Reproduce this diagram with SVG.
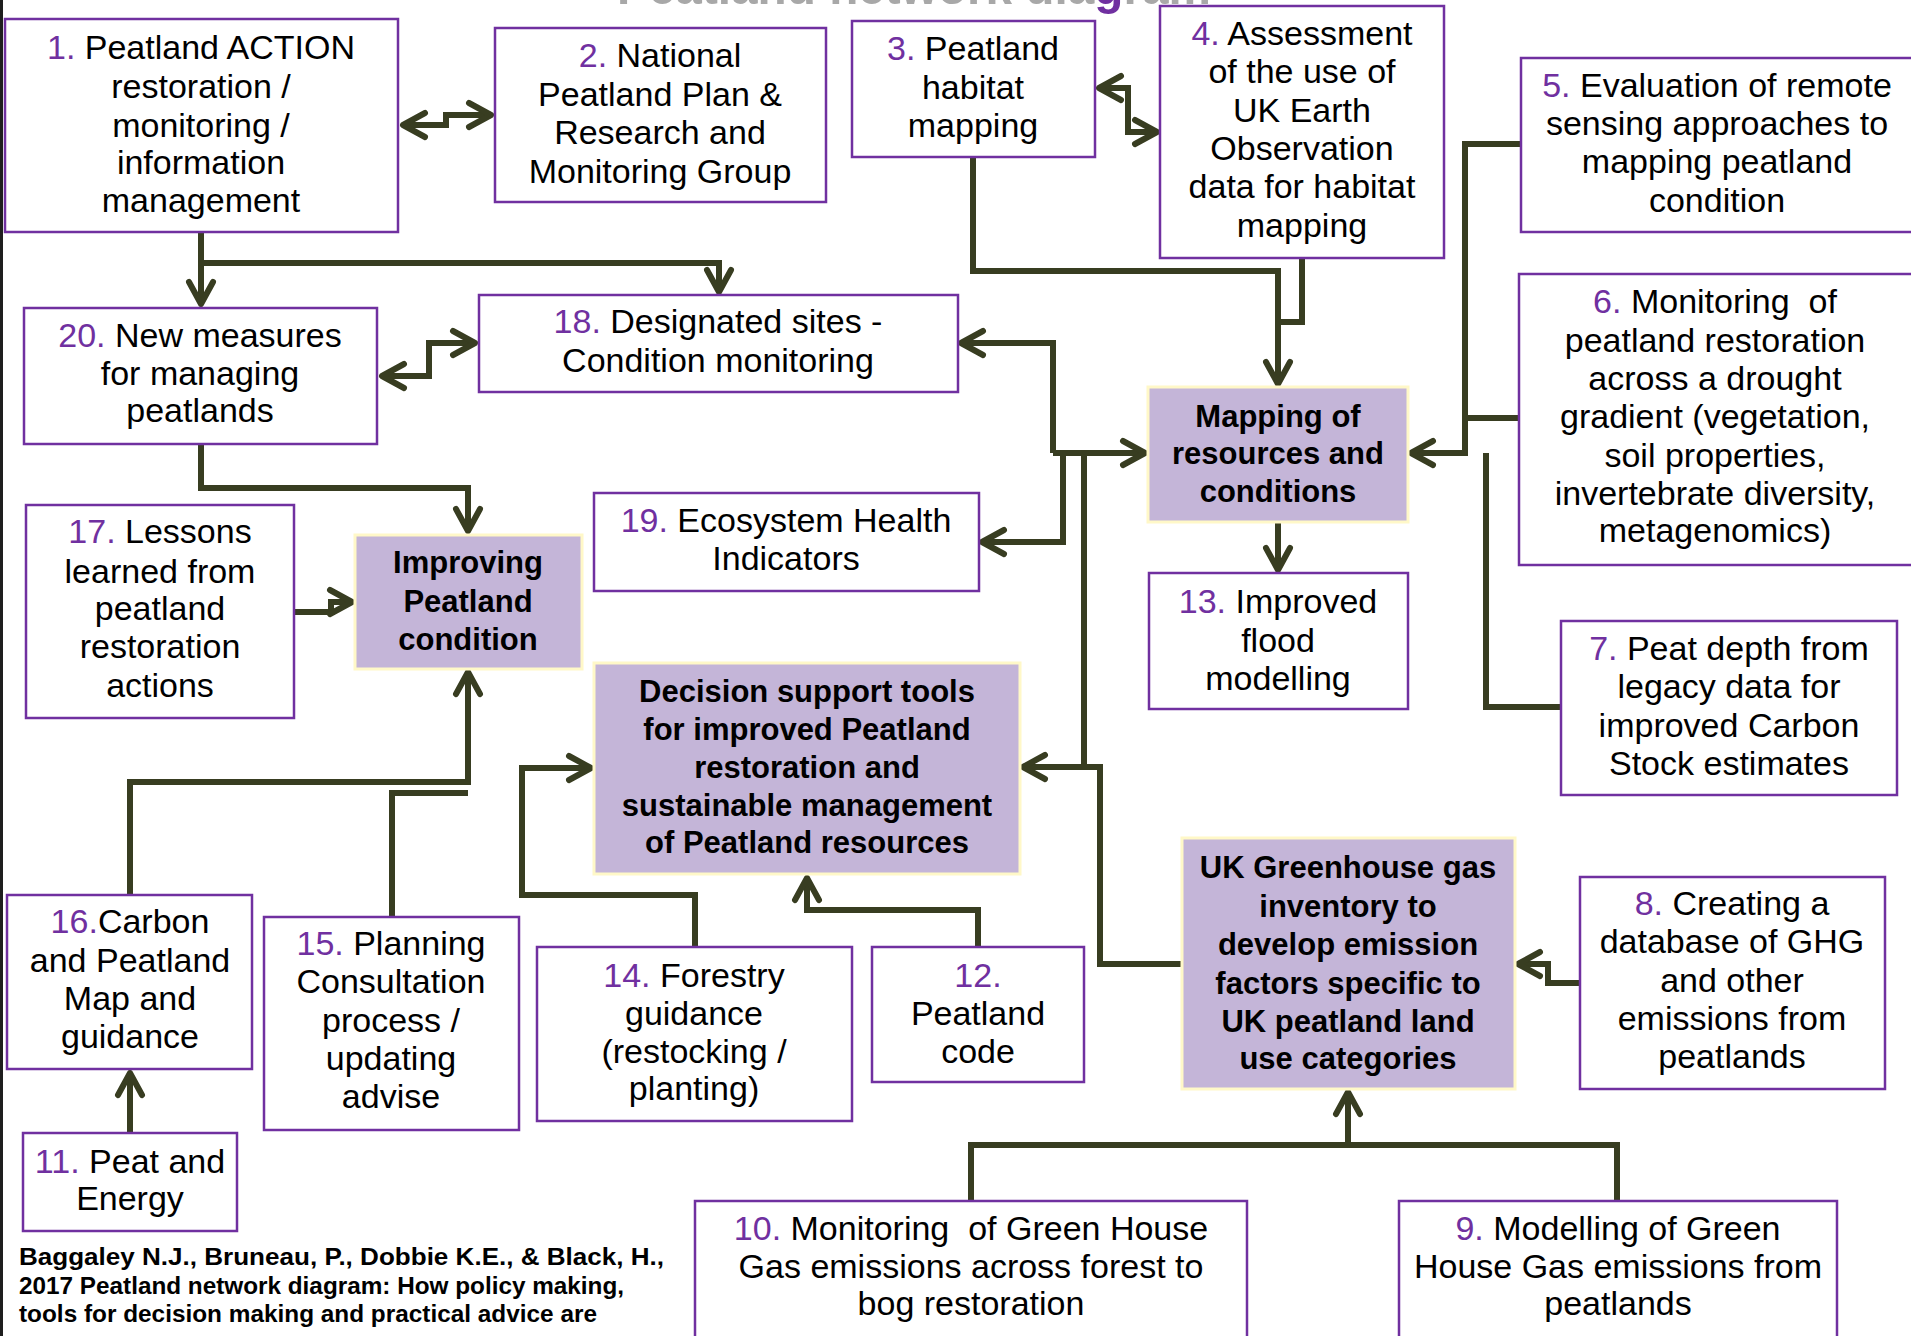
<svg xmlns="http://www.w3.org/2000/svg" width="1911" height="1336" viewBox="0 0 1911 1336">
<style>
.box{fill:#fff;stroke:#7030a0;stroke-width:2.5}
.hub{fill:#c4b5d8;stroke:#fff8c8;stroke-width:3}
.t{font-family:"Liberation Sans",Arial,sans-serif;font-size:34px;fill:#000;text-anchor:middle}
.b{font-family:"Liberation Sans",Arial,sans-serif;font-size:31px;font-weight:bold;fill:#000;text-anchor:middle}
.n{fill:#7030a0}
.c{fill:none;stroke:#383d21;stroke-width:6;stroke-linejoin:miter}
.a{marker-end:url(#ah)}
.d{marker-start:url(#ah);marker-end:url(#ah)}
.cite{font-family:"Liberation Sans",Arial,sans-serif;font-size:24px;font-weight:bold;fill:#000}
</style>
<defs>
<marker id="ah" viewBox="-28 -16 32 32" refX="0" refY="0" markerWidth="32" markerHeight="32" markerUnits="userSpaceOnUse" orient="auto-start-reverse">
<path d="M-22,-12 L0,0 L-22,12" fill="none" stroke="#383d21" stroke-width="6" stroke-linecap="round" stroke-linejoin="round"/>
</marker>
</defs>
<rect x="0" y="0" width="1911" height="1336" fill="#fff"/>
<rect x="0" y="0" width="3" height="1336" fill="#1e1e1e"/>
<text x="914" y="4" text-anchor="middle" font-family="Liberation Sans, Arial, sans-serif" font-size="50" font-weight="bold" fill="#a8a8a8" textLength="594" lengthAdjust="spacingAndGlyphs">Peatland network dia<tspan fill="#7030a0">g</tspan>ram</text>

<g id="connectors">
<path class="c a" d="M201,232 V304"/>
<path class="c a" d="M201,263 H719 V292"/>
<path class="c d" d="M403,125 H446 V115 H491"/>
<path class="c d" d="M382,376 H429 V343 H475"/>
<path class="c a" d="M201,444 V488 H468 V531"/>
<path class="c a" d="M294,612 H331 V602 H352"/>
<path class="c a" d="M130,895 V782 H468 V672"/>
<path class="c" d="M392,917 V793 H468"/>
<path class="c a" d="M695,947 V895 H522 V768 H591"/>
<path class="c a" d="M978,947 V910 H807 V878"/>
<path class="c a" d="M130,1133 V1073"/>
<path class="c d" d="M1099,88 H1128 V132 H1157"/>
<path class="c a" d="M973,157 V271 H1278 V384"/>
<path class="c" d="M1302,258 V322 H1278"/>
<path class="c a" d="M1053,453 H1145"/>
<path class="c a" d="M1053,453 V343 H961"/>
<path class="c a" d="M1063,453 V542 H982"/>
<path class="c a" d="M1084,453 V767 H1023"/>
<path class="c" d="M1182,964 H1100 V767 H1084"/>
<path class="c a" d="M1521,144 H1465 V453 H1411"/>
<path class="c" d="M1519,418 H1465"/>
<path class="c" d="M1561,707 H1486 V453"/>
<path class="c a" d="M1278,522 V570"/>
<path class="c a" d="M1580,983 H1548 V964 H1518"/>
<path class="c" d="M971,1201 V1145 H1617 V1201"/>
<path class="c a" d="M1348,1145 V1092"/>
</g>

<g id="n1"><rect class="box" x="5" y="19" width="393" height="213"/>
<text class="t" x="201" y="59"><tspan class="n">1.</tspan> Peatland ACTION</text>
<text class="t" x="201" y="98">restoration /</text>
<text class="t" x="201" y="137">monitoring /</text>
<text class="t" x="201" y="174">information</text>
<text class="t" x="201" y="212">management</text></g>

<g id="n2"><rect class="box" x="495" y="28" width="331" height="174"/>
<text class="t" x="660" y="67"><tspan class="n">2.</tspan> National</text>
<text class="t" x="660" y="106">Peatland Plan &amp;</text>
<text class="t" x="660" y="144">Research and</text>
<text class="t" x="660" y="183">Monitoring Group</text></g>

<g id="n3"><rect class="box" x="852" y="21" width="243" height="136"/>
<text class="t" x="973" y="60"><tspan class="n">3.</tspan> Peatland</text>
<text class="t" x="973" y="99">habitat</text>
<text class="t" x="973" y="137">mapping</text></g>

<g id="n4"><rect class="box" x="1160" y="6" width="284" height="252"/>
<text class="t" x="1302" y="45"><tspan class="n">4.</tspan> Assessment</text>
<text class="t" x="1302" y="83">of the use of</text>
<text class="t" x="1302" y="122">UK Earth</text>
<text class="t" x="1302" y="160">Observation</text>
<text class="t" x="1302" y="198">data for habitat</text>
<text class="t" x="1302" y="237">mapping</text></g>

<g id="n5"><rect class="box" x="1521" y="58" width="400" height="174"/>
<text class="t" x="1717" y="97"><tspan class="n">5.</tspan> Evaluation of remote</text>
<text class="t" x="1717" y="135">sensing approaches to</text>
<text class="t" x="1717" y="173">mapping peatland</text>
<text class="t" x="1717" y="212">condition</text></g>

<g id="n6"><rect class="box" x="1519" y="274" width="400" height="291"/>
<text class="t" x="1715" y="313"><tspan class="n">6.</tspan> Monitoring&#160; of</text>
<text class="t" x="1715" y="352">peatland restoration</text>
<text class="t" x="1715" y="390">across a drought</text>
<text class="t" x="1715" y="428">gradient (vegetation,</text>
<text class="t" x="1715" y="467">soil properties,</text>
<text class="t" x="1715" y="505">invertebrate diversity,</text>
<text class="t" x="1715" y="542">metagenomics)</text></g>

<g id="n7"><rect class="box" x="1561" y="621" width="336" height="174"/>
<text class="t" x="1729" y="660"><tspan class="n">7.</tspan> Peat depth from</text>
<text class="t" x="1729" y="698">legacy data for</text>
<text class="t" x="1729" y="737">improved Carbon</text>
<text class="t" x="1729" y="775">Stock estimates</text></g>

<g id="n8"><rect class="box" x="1580" y="877" width="305" height="212"/>
<text class="t" x="1732" y="915"><tspan class="n">8.</tspan> Creating a</text>
<text class="t" x="1732" y="953">database of GHG</text>
<text class="t" x="1732" y="992">and other</text>
<text class="t" x="1732" y="1030">emissions from</text>
<text class="t" x="1732" y="1068">peatlands</text></g>

<g id="n9"><rect class="box" x="1399" y="1201" width="438" height="140"/>
<text class="t" x="1618" y="1240"><tspan class="n">9.</tspan> Modelling of Green</text>
<text class="t" x="1618" y="1278">House Gas emissions from</text>
<text class="t" x="1618" y="1315">peatlands</text></g>

<g id="n10"><rect class="box" x="695" y="1201" width="552" height="140"/>
<text class="t" x="971" y="1240"><tspan class="n">10.</tspan> Monitoring&#160; of Green House</text>
<text class="t" x="971" y="1278">Gas emissions across forest to</text>
<text class="t" x="971" y="1315">bog restoration</text></g>

<g id="n11"><rect class="box" x="23" y="1133" width="214" height="98"/>
<text class="t" x="130" y="1173"><tspan class="n">11.</tspan> Peat and</text>
<text class="t" x="130" y="1210">Energy</text></g>

<g id="n12"><rect class="box" x="872" y="947" width="212" height="135"/>
<text class="t" x="978" y="987"><tspan class="n">12.</tspan></text>
<text class="t" x="978" y="1025">Peatland</text>
<text class="t" x="978" y="1063">code</text></g>

<g id="n13"><rect class="box" x="1149" y="573" width="259" height="136"/>
<text class="t" x="1278" y="613"><tspan class="n">13.</tspan> Improved</text>
<text class="t" x="1278" y="652">flood</text>
<text class="t" x="1278" y="690">modelling</text></g>

<g id="n14"><rect class="box" x="537" y="947" width="315" height="174"/>
<text class="t" x="694" y="987"><tspan class="n">14.</tspan> Forestry</text>
<text class="t" x="694" y="1025">guidance</text>
<text class="t" x="694" y="1063">(restocking /</text>
<text class="t" x="694" y="1100">planting)</text></g>

<g id="n15"><rect class="box" x="264" y="917" width="255" height="213"/>
<text class="t" x="391" y="955"><tspan class="n">15.</tspan> Planning</text>
<text class="t" x="391" y="993">Consultation</text>
<text class="t" x="391" y="1032">process /</text>
<text class="t" x="391" y="1070">updating</text>
<text class="t" x="391" y="1108">advise</text></g>

<g id="n16"><rect class="box" x="7" y="895" width="245" height="174"/>
<text class="t" x="130" y="933"><tspan class="n">16.</tspan>Carbon</text>
<text class="t" x="130" y="972">and Peatland</text>
<text class="t" x="130" y="1010">Map and</text>
<text class="t" x="130" y="1048">guidance</text></g>

<g id="n17"><rect class="box" x="26" y="505" width="268" height="213"/>
<text class="t" x="160" y="543"><tspan class="n">17.</tspan> Lessons</text>
<text class="t" x="160" y="583">learned from</text>
<text class="t" x="160" y="620">peatland</text>
<text class="t" x="160" y="658">restoration</text>
<text class="t" x="160" y="697">actions</text></g>

<g id="n18"><rect class="box" x="479" y="295" width="479" height="97"/>
<text class="t" x="718" y="333"><tspan class="n">18.</tspan> Designated sites -</text>
<text class="t" x="718" y="372">Condition monitoring</text></g>

<g id="n19"><rect class="box" x="594" y="493" width="385" height="98"/>
<text class="t" x="786" y="532"><tspan class="n">19.</tspan> Ecosystem Health</text>
<text class="t" x="786" y="570">Indicators</text></g>

<g id="n20"><rect class="box" x="24" y="308" width="353" height="136"/>
<text class="t" x="200" y="347"><tspan class="n">20.</tspan> New measures</text>
<text class="t" x="200" y="385">for managing</text>
<text class="t" x="200" y="422">peatlands</text></g>

<g id="improving"><rect class="hub" x="355" y="535" width="227" height="134"/>
<text class="b" x="468" y="573">Improving</text>
<text class="b" x="468" y="612">Peatland</text>
<text class="b" x="468" y="650">condition</text></g>

<g id="mapping"><rect class="hub" x="1148" y="387" width="260" height="135"/>
<text class="b" x="1278" y="427">Mapping of</text>
<text class="b" x="1278" y="464">resources and</text>
<text class="b" x="1278" y="502">conditions</text></g>

<g id="decision"><rect class="hub" x="594" y="663" width="426" height="211"/>
<text class="b" x="807" y="702">Decision support tools</text>
<text class="b" x="807" y="740">for improved Peatland</text>
<text class="b" x="807" y="778">restoration and</text>
<text class="b" x="807" y="816">sustainable management</text>
<text class="b" x="807" y="853">of Peatland resources</text></g>

<g id="ghg"><rect class="hub" x="1182" y="838" width="333" height="251"/>
<text class="b" x="1348" y="878">UK Greenhouse gas</text>
<text class="b" x="1348" y="917">inventory to</text>
<text class="b" x="1348" y="955">develop emission</text>
<text class="b" x="1348" y="994">factors specific to</text>
<text class="b" x="1348" y="1032">UK peatland land</text>
<text class="b" x="1348" y="1069">use categories</text></g>

<g id="citation">
<text class="cite" x="19" y="1265" textLength="645" lengthAdjust="spacingAndGlyphs">Baggaley N.J., Bruneau, P., Dobbie K.E., &amp; Black, H.,</text>
<text class="cite" x="19" y="1294" textLength="605" lengthAdjust="spacingAndGlyphs">2017 Peatland network diagram: How policy making,</text>
<text class="cite" x="19" y="1322" textLength="578" lengthAdjust="spacingAndGlyphs">tools for decision making and practical advice are</text>
</g>
</svg>
